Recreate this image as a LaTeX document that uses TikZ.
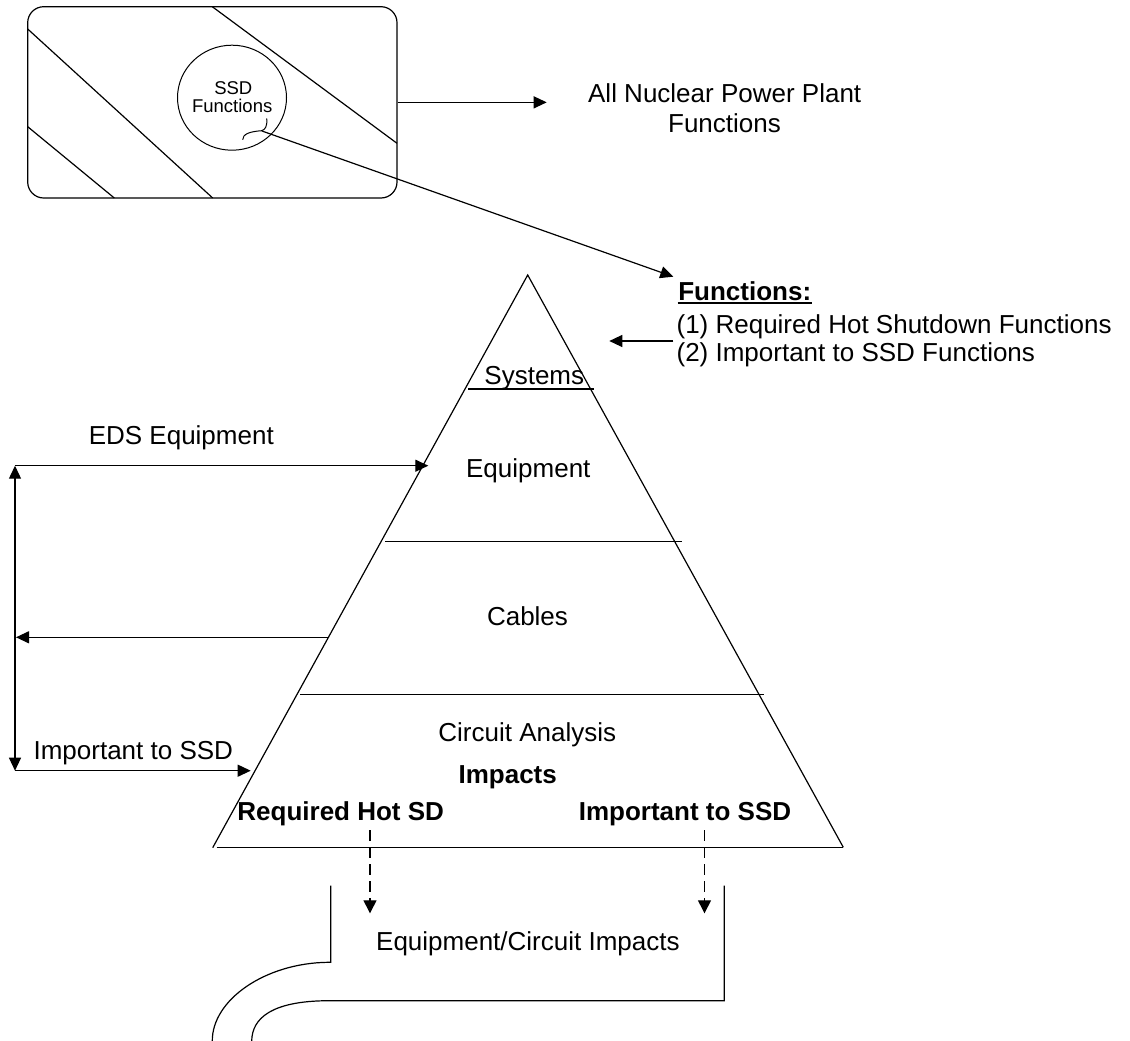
\documentclass[tikz,border=0pt]{standalone}
\usepackage{fontspec}
\setmainfont{Liberation Sans}
\usetikzlibrary{arrows.meta,shapes.geometric}
\begin{document}
\begin{tikzpicture}[x=1pt,y=-1pt,
  line width=1.2pt,
  arr/.style={-{Triangle[length=13pt,width=12pt]}},
  darr/.style={{Triangle[length=13pt,width=12pt]}-{Triangle[length=13pt,width=12pt]}},
  dsh/.style={line width=1.3pt,dash pattern=on 11pt off 6pt,-{Triangle[length=13pt,width=13pt]}},
  lbl/.style={inner sep=0pt,anchor=base,font=\fontsize{26}{30.4}\selectfont},
  lblw/.style={lbl,anchor=base west},
  lblb/.style={inner sep=0pt,anchor=base,font=\fontsize{26}{30.4}\selectfont\bfseries},
  small/.style={inner sep=0pt,anchor=base,font=\fontsize{18.5}{20}\selectfont}]
\useasboundingbox (0,0) rectangle (1130,1041);

% ---- top: all plant functions box ----
\node[draw,rounded corners=16pt,minimum width=369.3pt,minimum height=191.3pt,inner sep=0pt] (plant) at (212.35,102.35) {};
\draw (27.7,29) -- (212.7,198);
\draw (27.7,126.7) -- (114.3,198);
\draw (212.3,6.7) -- (397,143.3);
\node[draw,ellipse,minimum width=109pt,minimum height=105pt,inner sep=0pt,line width=1pt] (ssd) at (232,97.7) {};
\node[small] (ssdA) at (233.3,94.3) {SSD};
\node[small] (ssdB) at (232.2,113) {Functions};
\draw[line width=1pt] (266.7,118.5) .. controls (267.5,126.5) and (265,129.8) .. (261.7,130.7)
      .. controls (250,131.5) and (242.5,134) .. (242.7,139.8);
\coordinate (curl) at (261.7,130.9);

\node[lbl] (allA) at (724.7,102.3) {All Nuclear Power Plant};
\node[lbl] (allB) at (724.5,132.7) {Functions};
\coordinate (allTip) at (546.7,102.35);
\draw[arr] (plant.east) -- (allTip);

% ---- functions list ----
\node[lblw,font=\fontsize{26}{30.4}\selectfont\bfseries] (fhead) at (677.7,300) {Functions:};
\draw[line width=1.6pt] ([yshift=-2.8pt]fhead.base west) -- ([yshift=-2.8pt]fhead.base east);
\node[lblw] (f1) at (676,333.3) {(1) Required Hot Shutdown Functions};
\node[lblw] (f2) at (676,361.7) {(2) Important to SSD Functions};
\coordinate (fTip) at (673.3,276.7);
\draw[arr] (curl) -- (fTip);
\coordinate (fStart) at (673.3,341);
\coordinate (sysTip) at (609.3,341);
\draw[arr] (fStart) -- (sysTip);

% ---- pyramid ----
\coordinate (A) at (527.7,275);
\coordinate (L) at (212.7,847.7);
\coordinate (R) at (843.3,847.3);
\draw (L) -- (A) -- (R);
\draw (216.7,847.5) -- (843.3,847.5);
\draw (468.3,389) -- (594.3,389);
\draw (385,541.7) -- (681.7,541.7);
\draw (300,694.3) -- (764,694.3);

\node[lbl] (sys) at (534.3,384) {Systems};
\node[lbl] (equip) at (528.3,477.3) {Equipment};
\node[lbl] (cables) at (527.5,625) {Cables};
\node[lbl] (circ) at (527.3,741.7) {Circuit Analysis};
\node[lblb] (imp) at (507.7,783.3) {Impacts};
\node[lblb] (rhsd) at (340.7,820) {Required Hot SD};
\node[lblb] (itssd) at (685,820) {Important to SSD};

% ---- left side arrows ----
\coordinate (v1) at (15,465.7);
\coordinate (v2) at (15,770.7);
\coordinate (edsTip) at (428.3,465.7);
\coordinate (impTip) at (250.7,770.7);
\coordinate (cabStart) at (328.3,637.3);
\coordinate (cabTip) at (16,637.3);
\draw[arr] (v1) -- (edsTip);
\draw[darr] (v1) -- (v2);
\draw[arr] (cabStart) -- (cabTip);
\draw[arr] (v2) -- (impTip);
\node[lbl] (eds) at (181.3,444) {EDS Equipment};
\node[lbl] (imptxt) at (133.3,759.3) {Important to SSD};

% ---- bottom ----
\coordinate (d1s) at (370,830);
\coordinate (d1e) at (370,913.3);
\coordinate (d2s) at (704.5,830);
\coordinate (d2e) at (704.5,913.3);
\draw[dsh] (d1s) -- (d1e);
\draw[dsh] (d2s) -- (d2e);
\node[lbl] (eci) at (527.9,950.7) {Equipment/Circuit Impacts};

\draw (330.7,885.7) -- (330.7,962.3) -- (328,962.3)
      .. controls (265,963) and (212,1000) .. (212.3,1041);
\draw (724.3,885.7) -- (724.3,1000.7) -- (328,1000.7)
      .. controls (272,1001) and (252,1018) .. (251.7,1041);
\end{tikzpicture}
\end{document}
